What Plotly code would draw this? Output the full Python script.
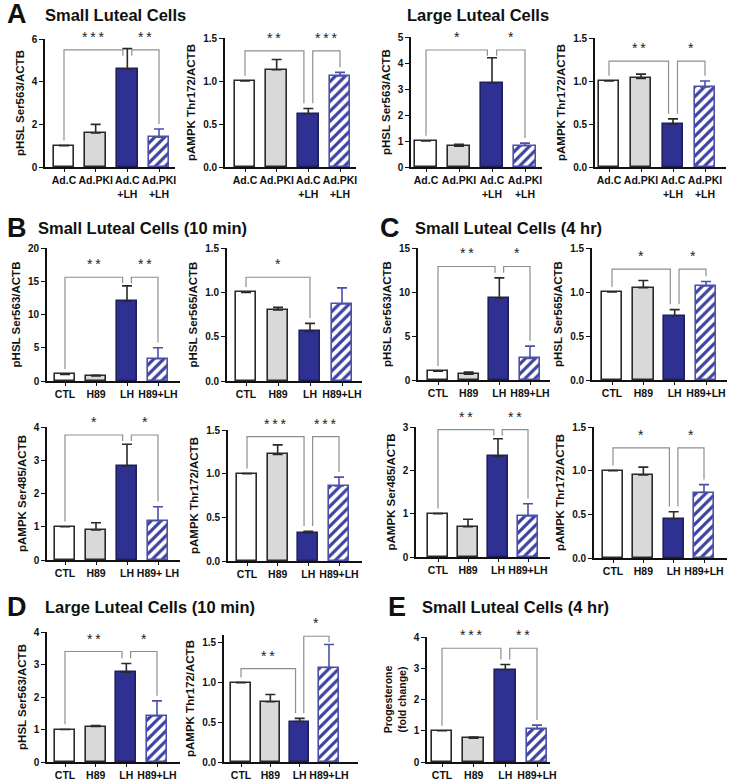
import plotly.graph_objects as go

W, H = 729, 780

# ---------------- data ----------------
A_LABELS = ["Ad.C", "Ad.PKI", "Ad.C<br>+LH", "Ad.PKI<br>+LH"]
H89_LABELS = ["CTL", "H89", "LH", "H89+LH"]
H89_LABELS_SPACED = ["CTL", "H89", "LH", "H89+ LH"]

# Panel A - small luteal cells
A_SMALL_PHSL563 = [1.00, 1.60, 4.60, 1.40]
A_SMALL_PHSL563_SEM = [0.00, 0.40, 0.95, 0.38]
A_SMALL_PHSL563_SIG = [(0, 2, "***"), (2, 3, "**")]
A_SMALL_PAMPK172 = [1.00, 1.13, 0.62, 1.06]
A_SMALL_PAMPK172_SEM = [0.00, 0.12, 0.06, 0.04]
A_SMALL_PAMPK172_SIG = [(0, 2, "**"), (2, 3, "***")]
# Panel A - large luteal cells
A_LARGE_PHSL563 = [1.00, 0.80, 3.22, 0.82]
A_LARGE_PHSL563_SEM = [0.00, 0.07, 0.98, 0.10]
A_LARGE_PHSL563_SIG = [(0, 2, "*"), (2, 3, "*")]
A_LARGE_PAMPK172 = [1.00, 1.03, 0.50, 0.93]
A_LARGE_PAMPK172_SEM = [0.00, 0.05, 0.06, 0.07]
A_LARGE_PAMPK172_SIG = [(0, 2, "**"), (2, 3, "*")]

# Panel B - small luteal cells 10 min
B_PHSL563 = [1.00, 0.75, 12.0, 3.35]
B_PHSL563_SEM = [0.00, 0.10, 2.30, 1.65]
B_PHSL563_SIG = [(0, 2, "**"), (2, 3, "**")]
B_PHSL565 = [1.00, 0.80, 0.56, 0.87]
B_PHSL565_SEM = [0.00, 0.03, 0.09, 0.18]
B_PHSL565_SIG = [(0, 2, "*")]
B_PAMPK485 = [1.00, 0.90, 2.83, 1.18]
B_PAMPK485_SEM = [0.00, 0.22, 0.65, 0.42]
B_PAMPK485_SIG = [(0, 2, "*"), (2, 3, "*")]
B_PAMPK172 = [1.00, 1.22, 0.32, 0.86]
B_PAMPK172_SEM = [0.00, 0.11, 0.02, 0.10]
B_PAMPK172_SIG = [(0, 2, "***"), (2, 3, "***")]

# Panel C - small luteal cells 4 hr
C_PHSL563 = [1.00, 0.65, 9.30, 2.45]
C_PHSL563_SEM = [0.00, 0.25, 2.30, 1.40]
C_PHSL563_SIG = [(0, 2, "**"), (2, 3, "*")]
C_PHSL565 = [1.00, 1.05, 0.73, 1.07]
C_PHSL565_SEM = [0.00, 0.08, 0.07, 0.05]
C_PHSL565_SIG = [(0, 2, "*"), (2, 3, "*")]
C_PAMPK485 = [1.00, 0.70, 2.32, 0.95]
C_PAMPK485_SEM = [0.00, 0.17, 0.41, 0.28]
C_PAMPK485_SIG = [(0, 2, "**"), (2, 3, "**")]
C_PAMPK172 = [1.00, 0.95, 0.45, 0.75]
C_PAMPK172_SEM = [0.00, 0.09, 0.08, 0.09]
C_PAMPK172_SIG = [(0, 2, "*"), (2, 3, "*")]

# Panel D - large luteal cells 10 min
D_PHSL563 = [1.00, 1.09, 2.76, 1.42]
D_PHSL563_SEM = [0.00, 0.03, 0.27, 0.46]
D_PHSL563_SIG = [(0, 2, "**"), (2, 3, "*")]
D_PAMPK172 = [1.00, 0.76, 0.51, 1.19]
D_PAMPK172_SEM = [0.00, 0.09, 0.04, 0.29]
D_PAMPK172_SIG = [(0, 2, "**"), (2, 3, "*")]

# Panel E - progesterone
E_PROG = [1.00, 0.76, 2.95, 1.06]
E_PROG_SEM = [0.00, 0.04, 0.17, 0.12]
E_PROG_SIG = [(0, 2, "***"), (2, 3, "**")]

# ---------------- style ----------------
FONT = "Liberation Sans, Arial, sans-serif"
FILL = ["#ffffff", "#d9d9d9", "#2e3191", "#ffffff"]
EDGE = ["#2a2a2a", "#2a2a2a", "#1e1f5c", "#4b50aa"]
ERRC = ["#2a2a2a", "#2a2a2a", "#2a2a2a", "#4b50aa"]
BRACKET = "#8f8f8f"

# geometry (px): x = (axis, first bar centre, last bar centre, axis end), y = (top, zero)
panels = [
    (A_SMALL_PHSL563, A_SMALL_PHSL563_SEM, A_SMALL_PHSL563_SIG, A_LABELS, "pHSL Ser563/ACTB", (45, 64, 159, 175), (39, 167), 6, 2, "d", [0.915, 0.915]),
    (A_SMALL_PAMPK172, A_SMALL_PAMPK172_SEM, A_SMALL_PAMPK172_SIG, A_LABELS, "pAMPK Thr172/ACTB", (225, 245, 340, 356), (38, 167), 1.5, 0.5, ".1f", [0.9, 0.9]),
    (A_LARGE_PHSL563, A_LARGE_PHSL563_SEM, A_LARGE_PHSL563_SIG, A_LABELS, "pHSL Ser563/ACTB", (411, 426, 525, 542), (37, 167), 5, 1, "d", [0.9, 0.9]),
    (A_LARGE_PAMPK172, A_LARGE_PAMPK172_SEM, A_LARGE_PAMPK172_SIG, A_LABELS, "pAMPK Thr172/ACTB", (595, 609, 705, 726), (38, 167), 1.5, 0.5, ".1f", [0.82, 0.82]),
    (B_PHSL563, B_PHSL563_SEM, B_PHSL563_SIG, H89_LABELS, "pHSL Ser563/ACTB", (47, 65, 158, 180), (248, 381), 20, 5, "d", [0.78, 0.78]),
    (B_PHSL565, B_PHSL565_SEM, B_PHSL565_SIG, H89_LABELS, "pHSL Ser565/ACTB", (227, 246, 342, 362), (248, 381), 1.5, 0.5, ".1f", [0.78]),
    (B_PAMPK485, B_PAMPK485_SEM, B_PAMPK485_SIG, H89_LABELS_SPACED, "pAMPK Ser485/ACTB", (47, 65, 158, 180), (427, 560), 4, 1, "d", [0.94, 0.94]),
    (B_PAMPK172, B_PAMPK172_SEM, B_PAMPK172_SIG, H89_LABELS, "pAMPK Thr172/ACTB", (228, 247, 339, 362), (430, 561), 1.5, 0.5, ".1f", [0.95, 0.95]),
    (C_PHSL563, C_PHSL563_SEM, C_PHSL563_SIG, H89_LABELS, "pHSL Ser563/ACTB", (418, 438, 530, 550), (248, 380), 15, 5, "d", [0.86, 0.86]),
    (C_PHSL565, C_PHSL565_SEM, C_PHSL565_SIG, H89_LABELS, "pHSL Ser565/ACTB", (592, 612, 706, 727), (248, 380), 1.5, 0.5, ".1f", [0.84, 0.84]),
    (C_PAMPK485, C_PAMPK485_SEM, C_PAMPK485_SIG, H89_LABELS, "pAMPK Ser485/ACTB", (416, 438, 528, 550), (427, 557), 3, 1, "d", [0.98, 0.98]),
    (C_PAMPK172, C_PAMPK172_SEM, C_PAMPK172_SIG, H89_LABELS, "pAMPK Thr172/ACTB", (594, 613, 704, 727), (427, 558), 1.5, 0.5, ".1f", [0.84, 0.84]),
    (D_PHSL563, D_PHSL563_SEM, D_PHSL563_SIG, H89_LABELS, "pHSL Ser563/ACTB", (47, 65, 157, 180), (632, 762), 4, 1, "d", [0.85, 0.85]),
    (D_PAMPK172, D_PAMPK172_SEM, D_PAMPK172_SIG, H89_LABELS, "pAMPK Thr172/ACTB", (224, 241, 329, 358), (635, 762), 1.6, 0.5, ".1f", [0.735, 0.99]),
    (E_PROG, E_PROG_SEM, E_PROG_SIG, H89_LABELS, "Progesterone<br>(fold change)", (427, 442, 537, 550), (637, 762), 4, 1, "d", [0.91, 0.91]),
]

fig = go.Figure()
shapes = []
annotations = []
layout = {}

for k, (vals, sem, sig, labels, ytitle, gx, gy, ymax, dtick, fmt, levels) in enumerate(panels, start=1):
    xa = "x" if k == 1 else f"x{k}"
    ya = "y" if k == 1 else f"y{k}"
    ax0, b0, b3, ax1 = gx
    yt, yb = gy
    unit = (b3 - b0) / 3.0
    xr = [-(b0 - ax0) / unit, 3 + (ax1 - b3) / unit]
    for i in range(len(vals)):
        marker = dict(color=FILL[i], line=dict(color=EDGE[i], width=1.6))
        if i == 3:
            marker["pattern"] = dict(shape="/", fgcolor="#3d41a0", bgcolor="#ffffff",
                                     size=7, solidity=0.45, fillmode="replace")
        fig.add_trace(go.Bar(
            x=[i], y=[vals[i]], width=0.65, marker=marker,
            error_y=dict(type="data", array=[sem[i]], arrayminus=[0], symmetric=False,
                         color=ERRC[i], thickness=1.6, width=5),
            xaxis=xa, yaxis=ya, showlegend=False, hoverinfo="skip"))

    xkey = "xaxis" if k == 1 else f"xaxis{k}"
    ykey = "yaxis" if k == 1 else f"yaxis{k}"
    layout[xkey] = dict(
        domain=[ax0 / W, ax1 / W], anchor=ya, range=xr, fixedrange=True,
        tickmode="array", tickvals=list(range(len(labels))), ticktext=labels,
        tickangle=0, automargin=False,
        showline=True, linecolor="#111111", linewidth=1.6, ticks="outside",
        ticklen=3, tickwidth=1.4, tickcolor="#111111", showgrid=False, zeroline=False,
        tickfont=dict(family=FONT, size=10.5, color="#111111", weight="bold"))
    layout[ykey] = dict(
        domain=[1 - yb / H, 1 - yt / H], anchor=xa, range=[0, ymax], fixedrange=True,
        tickmode="linear", tick0=0, dtick=dtick, tickformat=fmt, automargin=False,
        showline=True, linecolor="#111111", linewidth=1.6, ticks="outside",
        ticklen=4, tickwidth=1.4, tickcolor="#111111", showgrid=False, zeroline=False,
        tickfont=dict(family=FONT, size=10, color="#111111", weight="bold"),
        title=dict(text=ytitle, standoff=5,
                   font=dict(family=FONT, size=(10.5 if "<br>" in ytitle else 11.5),
                             color="#111111", weight="bold")))

    # significance brackets
    counts = {}
    for a, b, _ in sig:
        counts[a] = counts.get(a, 0) + 1
        counts[b] = counts.get(b, 0) + 1
    gap = 0.04 * ymax
    minleg = 0.045 * ymax
    for (a, b, star), frac in zip(sig, levels):
        level = frac * ymax
        xa_pos = a + (0.14 if counts[a] > 1 else 0.0)
        xb_pos = b - (0.14 if counts[b] > 1 else 0.0)
        legs = []
        for idx in (a, b):
            bottom = vals[idx] + sem[idx] + gap
            if bottom > level - minleg:
                bottom = level - minleg
            legs.append(bottom)
        path = (f"M {xa_pos},{legs[0]} L {xa_pos},{level} "
                f"L {xb_pos},{level} L {xb_pos},{legs[1]}")
        shapes.append(dict(type="path", path=path, xref=xa, yref=ya,
                           line=dict(color=BRACKET, width=1.2)))
        annotations.append(dict(x=(xa_pos + xb_pos) / 2, y=level, xref=xa, yref=ya,
                                text="\u2009".join(star), showarrow=False,
                                yanchor="bottom", yshift=3,
                                font=dict(family=FONT, size=14, color="#222222")))

# panel letters and titles
heads = [
    ("A", 5, 14, "Small Luteal Cells", 43, 15),
    (None, 0, 0, "Large Luteal Cells", 405, 15),
    ("B", 5, 228, "Small Luteal Cells (10 min)", 36, 228),
    ("C", 378, 228, "Small Luteal Cells (4 hr)", 413, 228),
    ("D", 5, 607, "Large Luteal Cells (10 min)", 43, 607),
    ("E", 386, 607, "Small Luteal Cells (4 hr)", 420, 607),
]
for letter, lx, ly, title, tx, ty in heads:
    if letter:
        annotations.append(dict(x=lx / W, y=1 - ly / H, xref="paper", yref="paper",
                                text=letter, showarrow=False, xanchor="left", yanchor="middle",
                                font=dict(family=FONT, size=27, color="#111111", weight="bold")))
    annotations.append(dict(x=tx / W, y=1 - ty / H, xref="paper", yref="paper",
                            text=title, showarrow=False, xanchor="left", yanchor="middle",
                            font=dict(family=FONT, size=16.5, color="#111111", weight="bold")))

fig.update_layout(
    width=W, height=H, margin=dict(l=0, r=0, t=0, b=0),
    paper_bgcolor="white", plot_bgcolor="white",
    barmode="overlay", bargap=0, showlegend=False,
    shapes=shapes, annotations=annotations,
    font=dict(family=FONT, color="#111111"),
    **layout)

fig.write_html("out.html", config={"displayModeBar": False},
               post_script="document.body.style.margin='0';document.body.style.overflow='hidden';")
